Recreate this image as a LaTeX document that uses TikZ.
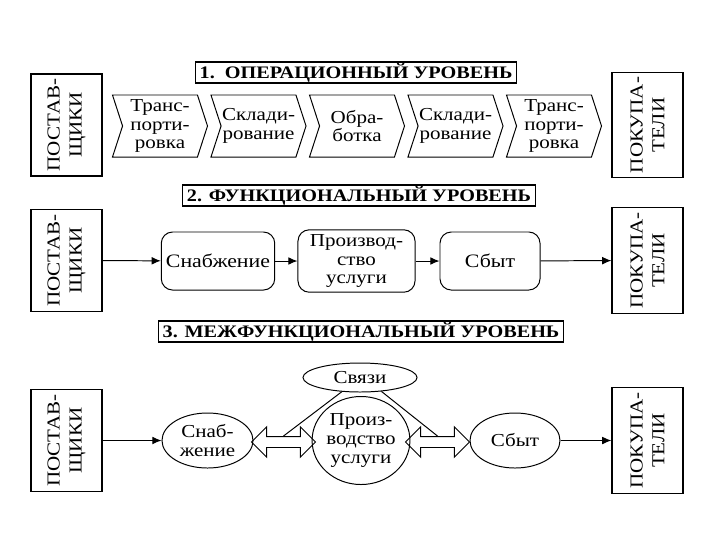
\documentclass[tikz,border=0pt]{standalone}
\usepackage{fontspec}
\setmainfont{Liberation Serif}[FakeStretch=1.15]
\usetikzlibrary{shapes.geometric,shapes.symbols,shapes.arrows,arrows.meta}

\tikzset{
  side/.style={draw, line width=0.9pt, rotate=90, minimum width=2.375cm,
    minimum height=1.775cm, align=center, font=\fontsize{13}{15.5}\selectfont},
  level/.style={draw, line width=0.8pt, minimum height=0.525cm, inner xsep=3pt,
    inner ysep=0pt, font=\bfseries\fontsize{12.5}{13}\selectfont},
  chevron/.style={draw, signal, signal to=east, signal from=west,
    signal pointer angle=144, minimum width=2.375cm, minimum height=1.55cm,
    align=center, inner sep=0pt, font=\fontsize{13}{13.2}\selectfont},
  func/.style={draw, rounded corners=8pt, minimum height=1.45cm, align=center},
  oval/.style={draw, ellipse, align=center, inner sep=0pt},
  link/.style={double arrow, draw, minimum height=1.6cm, inner xsep=0pt,
    inner ysep=0.125cm, double arrow head extend=0.24cm}
}

\begin{document}
\begin{tikzpicture}[
  x=0.025cm, y=-0.025cm, >={Latex[length=6.5pt,width=5.5pt]},
  line width=0.7pt, font=\fontsize{13}{13.2}\selectfont
]
  \useasboundingbox (0,0) rectangle (720,540);

  % 1. operational level
  \node[level] (L1) at (356,72.5) {1.~~ОПЕРАЦИОННЫЙ УРОВЕНЬ};
  \node[side] (P1) at (66.5,125) {ПОСТАВ-\\ЩИКИ};
  \node[side] (C1) at (647.5,125) {ПОКУПА-\\ТЕЛИ};
  \node[chevron] (T1) at (160,126) {Транс-\\порти-\\ровка};
  \node[chevron] (S1) at (258.5,126) {Склади-\\рование};
  \node[chevron] (O1) at (357,126) {Обра-\\ботка};
  \node[chevron] (S2) at (455.5,126) {Склади-\\рование};
  \node[chevron] (T2) at (554,126) {Транс-\\порти-\\ровка};

  % 2. functional level
  \node[level] (L2) at (359,195.5) {2. ФУНКЦИОНАЛЬНЫЙ УРОВЕНЬ};
  \node[side] (P2) at (66.5,260.5) {ПОСТАВ-\\ЩИКИ};
  \node[side] (C2) at (647.5,260.5) {ПОКУПА-\\ТЕЛИ};
  \node[func, minimum width=2.75cm, font=\fontsize{13.5}{14}\selectfont]
    (Sn2) at (218,261) {Снабжение};
  \node[func, minimum width=2.925cm] (Pr2) at (356.5,261) {Производ-\\ство\\услуги};
  \node[func, minimum width=2.5cm, font=\fontsize{13.5}{14}\selectfont]
    (Sb2) at (490,261) {Сбыт};

  \path[->]
    (P2) edge (Sn2)
    (Sn2) edge (Pr2)
    (Pr2) edge (Sb2)
    (Sb2) edge (C2);

  % 3. cross-functional level
  \node[level] (L3) at (361,331.5) {3. МЕЖФУНКЦИОНАЛЬНЫЙ УРОВЕНЬ};
  \node[side] (P3) at (66.5,440.5) {ПОСТАВ-\\ЩИКИ};
  \node[side] (C3) at (647.5,440.5) {ПОКУПА-\\ТЕЛИ};
  \node[oval, minimum width=2.275cm, minimum height=1.375cm]
    (Sn3) at (207.5,440.5) {Снаб-\\жение};
  \node[oval, minimum width=2.25cm, minimum height=2.2cm]
    (Pr3) at (361,440.5) {Произ-\\водство\\услуги};
  \node[oval, minimum width=2.25cm, minimum height=1.375cm]
    (Sb3) at (515,440.5) {Сбыт};
  \node[oval, minimum width=2.85cm, minimum height=0.725cm]
    (Sv3) at (360,377.5) {Связи};
  \node[link] (D1) at (283.5,442) {};
  \node[link] (D2) at (437.5,442) {};

  \path[->]
    (P3) edge (Sn3)
    (Sb3) edge (C3);
  \path
    (Sv3.218) edge (D1.north)
    (Sv3.327) edge (D2.north);
\end{tikzpicture}
\end{document}
